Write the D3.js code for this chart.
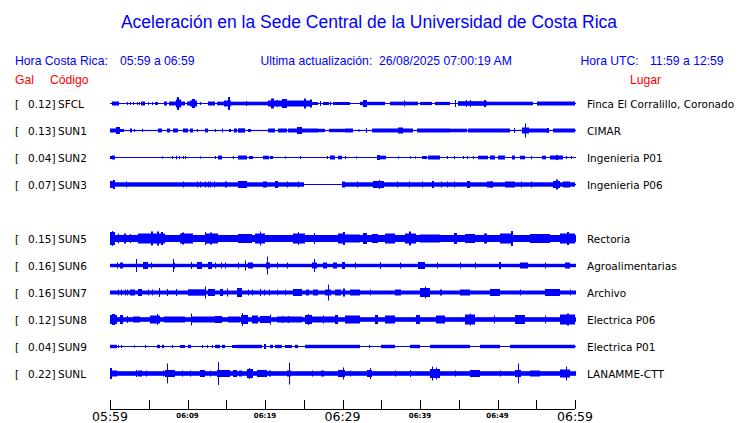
<!DOCTYPE html>
<html><head><meta charset="utf-8">
<script src="https://cdn.jsdelivr.net/npm/d3@7"></script>
<style>body{margin:0;background:#fff}svg{display:block}</style>
</head><body><svg id="c" width="740" height="423"></svg>
<script>
// ---------- DATA ----------
const slots = ["SFCL","SUN1","SUN2","SUN3","SUN4","SUN5","SUN6","SUN7","SUN8","SUN9","SUNL"];
const codes = ["SFCL","SUN1","SUN2","SUN3","SUN5","SUN6","SUN7","SUN8","SUN9","SUNL"];
const peakGal = ["0.12","0.13","0.04","0.07","0.15","0.16","0.16","0.12","0.04","0.22"];
const places = ["Finca El Corralillo, Coronado","CIMAR","Ingenieria P01","Ingenieria P06","Rectoria","Agroalimentarias","Archivo","Electrica P06","Electrica P01","LANAMME-CTT"];
// background (noise) amplitude of each trace, relative units
const baseAmp = [0.5,0.6,0.5,0.5,3.5,1.7,2,2.3,0.5,2.3];
// events per trace: [start minute, end minute, relative amplitude] (minutes after 05:59)
const ev_SFCL = [[0.3,1.2,2],[2.2,2.3,1.5],[2.6,2.7,1.5],[3.0,3.1,1.5],[3.5,3.6,1.5],[3.7,3.8,1.5],[4.0,4.5,2],[4.9,5.0,1.5],[5.4,5.5,1.5],[5.8,6.2,1.5],[7.0,7.4,2],[7.6,8.5,2],[8.5,9.1,4],[8.6,8.9,6.5],[9.0,9.7,2],[9.9,10.3,2],[10.3,11.2,3],[10.6,11.0,4.5],[11.6,11.7,1.5],[12.6,13.5,2],[13.8,14.7,1.8],[14.7,15.6,3],[15.2,15.5,6.5],[15.6,20.4,1.8],[17.5,17.6,2.5],[20.4,26.0,3],[20.8,21.1,5],[21.5,21.7,3.5],[22.2,22.9,4.5],[25.0,25.3,5],[25.8,26.0,4],[26.0,26.8,1.5],[27.1,27.2,2.5],[27.5,28.3,1.5],[28.4,28.5,2],[28.8,30.3,1.5],[30.3,31.0,1.5],[32.3,35.5,1.7],[32.6,33.2,3.5],[36.1,39.7,1.8],[38.0,38.1,3],[40.0,41.5,1.6],[41.9,43.9,1.6],[44.5,44.6,3.5],[44.9,48.6,2.3],[45.9,46.0,3.5],[46.4,46.5,3.5],[48.3,48.5,3.5],[48.6,54.6,1.8],[55.1,60,2]];
const ev_SUN1 = [[0,0.8,2],[0.8,1.3,3.5],[1.3,1.8,1.5],[2.6,2.8,2],[3.1,3.2,1.5],[4.1,4.2,1.5],[6.2,6.7,2],[7.4,7.7,2],[8.1,8.8,2],[9.4,10.0,2],[10.3,10.7,2],[11.2,11.4,1.5],[12.3,12.6,2],[13.6,13.7,1.5],[14.5,14.6,2],[15.3,15.6,1.5],[16.0,16.4,2],[16.5,17.4,2.2],[17.8,18.2,1.5],[20.4,21.3,2],[21.7,22.8,2],[23.0,26.8,2],[24.1,24.8,3.5],[26.8,27.8,1.7],[28.2,30.3,1.7],[30.3,31.4,2],[32.0,32.3,1],[33.0,33.1,2.5],[33.8,36.4,2],[36.4,39.1,2],[37.2,37.8,3],[39.6,43.9,2],[43.9,46.0,1.8],[46.2,49.7,2],[49.7,51.6,2],[52.1,52.3,2.5],[53.2,54.0,3],[53.5,53.6,7],[53.8,56.4,2],[56.4,56.6,2.5],[57.2,60,2]];
const ev_SUN2 = [[0,0.7,1.5],[0.3,0.7,2],[6.7,6.8,1.2],[8.0,8.1,1.5],[8.5,8.6,1.8],[8.9,9.0,1.5],[9.4,9.5,1.5],[9.7,9.8,1.5],[11.6,11.7,1.2],[13.5,13.6,1.5],[13.9,14.5,2],[15.9,16.0,1.5],[16.5,17.7,2],[17.9,18.4,1.5],[19.7,20.5,1.8],[20.6,21.0,1.5],[22.6,22.7,1.2],[24.5,24.6,1.5],[28.0,28.1,1.5],[28.4,29.0,2],[29.4,29.9,1.8],[30.3,30.4,1.5],[31.7,31.8,1.2],[34.4,34.9,2.5],[34.9,35.6,1.8],[37.2,37.3,1.2],[38.7,38.8,1.2],[39.3,39.4,1.2],[40.3,40.9,1.5],[41.0,42.6,2],[43.5,43.6,1.5],[44.4,44.5,1.5],[45.5,45.6,1.5],[46.1,46.2,1.5],[46.8,46.9,1.5],[47.5,48.8,1.8],[49.0,49.7,2],[50.1,51.0,2],[51.9,52.3,2],[52.9,53.6,1.8],[54.3,54.5,1.8],[55.8,56.3,1.8],[56.8,58.5,2],[57.6,57.8,2.5],[58.8,58.9,1.5],[59.5,59.6,1.5]];
const ev_SUN3 = [[0,25.0,2.2],[0,0.7,3.5],[0.4,0.6,4.5],[2.0,2.1,3],[9.4,9.5,3],[11.2,11.3,3],[11.6,11.7,3],[12.2,12.3,3],[12.6,12.7,3],[12.9,13.0,3],[13.4,13.5,3],[14.9,15.1,3],[16.5,17.7,3.5],[19.7,20.3,3],[21.3,21.7,3.5],[22.8,22.9,3],[24.2,24.3,3],[29.9,60,2.2],[29.9,30.3,3],[31.9,32.0,3],[33.9,35.3,3.5],[34.7,34.9,4.5],[37.0,37.1,3],[38.6,38.7,3],[40.2,40.4,3],[41.5,41.8,3.5],[42.7,42.8,3],[43.5,43.6,3],[44.4,44.5,3],[46.0,46.4,3.5],[48.6,49.4,3],[49.1,49.2,3.5],[51.0,52.3,3],[53.0,53.1,3],[54.3,54.4,3],[57.2,58.1,3.5],[57.6,57.8,5],[58.5,59.4,3]];
const ev_SUN5 = [[0,0.7,6.5],[0.2,0.4,7.5],[1.0,1.1,5],[1.8,2.0,5],[2.6,2.7,4.5],[3.6,7.1,5],[5.3,5.5,7],[6.1,6.3,7],[6.6,6.8,6.5],[9.0,10.7,5],[9.3,9.5,6],[12.2,12.3,6.5],[12.3,13.9,5],[12.9,13.1,6],[16.5,18.3,4.5],[18.7,20.0,5],[19.3,19.5,7],[23.6,25.2,5],[24.2,24.4,6.5],[26.3,26.5,5.5],[29.4,30.3,5],[30.1,30.3,6.5],[30.3,32.3,4],[32.7,33.1,5.5],[33.8,34.6,4.5],[35.5,36.8,5],[38.1,39.5,5],[38.6,38.8,7],[40.0,42.6,4],[44.4,44.8,5.5],[45.8,47.1,4.5],[48.2,48.6,5],[50.3,52.0,5],[51.8,52.0,7.5],[54.2,56.8,4.5],[58.1,60,5],[59.0,59.2,6.5]];
const ev_SUN6 = [[0.9,1.0,3],[1.3,1.7,3],[3.3,3.4,6.5],[4.3,4.9,3.5],[5.3,5.4,3],[8.1,8.2,6.5],[8.3,8.4,3],[10.4,10.5,3.5],[11.2,11.9,3.5],[12.6,13.2,3.5],[13.5,13.7,3],[14.3,14.4,3],[14.9,15.0,3],[16.5,16.6,3],[17.4,17.5,5],[17.8,18.5,3],[20.1,20.6,3],[20.3,20.4,9],[21.5,21.6,3],[22.8,22.9,3],[26.0,26.7,3],[26.3,26.4,6.5],[27.5,28.0,3],[28.8,29.3,3],[29.9,30.3,3.5],[31.6,31.7,3],[34.8,35.0,3.5],[37.4,37.5,3],[39.7,40.6,3.5],[42.2,42.3,3],[45.2,45.3,3],[47.1,47.2,3],[50.2,50.4,3.5],[52.9,53.9,3],[56.1,56.2,3],[58.7,59.3,3]];
const ev_SUN7 = [[1.0,1.1,3],[1.4,1.5,3],[1.9,2.0,3],[2.2,2.3,3],[2.6,3.2,3],[3.6,4.1,3.5],[4.9,5.0,3],[5.4,5.5,3],[6.3,6.5,4.5],[7.4,7.5,3.5],[8.5,8.6,3.5],[10.1,12.3,3.2],[12.2,12.3,6],[12.6,13.5,3.5],[14.2,14.6,3.5],[15.1,15.2,4],[16.4,17.0,4.5],[17.8,17.9,3],[18.3,18.4,3],[19.3,19.4,3.5],[19.9,20.0,3],[20.5,20.6,3],[21.6,21.7,3],[22.6,22.7,3],[23.6,24.8,3.5],[25.3,25.7,3],[26.2,26.9,3],[28.1,28.2,8],[27.8,28.5,3],[29.0,29.8,3],[30.0,30.3,4],[31.0,32.3,3],[33.5,33.6,3],[36.8,37.5,3],[40.0,41.3,4.5],[40.6,40.8,6],[42.6,42.8,3],[45.2,46.5,3],[49.0,50.3,3.5],[52.9,53.0,3],[56.1,58.1,3.5],[59.4,59.5,3]];
const ev_SUN8 = [[0,0.9,4.5],[0.3,0.6,5.5],[1.3,1.7,4.5],[2.2,2.3,3.5],[3.0,3.9,3],[5.2,6.5,4],[6.0,6.2,5.5],[7.0,9.7,3],[10.4,10.6,6],[10.6,13.5,3],[13.5,14.5,3.5],[15.2,16.8,3],[16.9,17.8,4.5],[17.0,17.2,6.5],[18.3,19.1,4],[19.4,20.6,3.5],[20.6,20.8,5],[21.5,24.8,3],[22.2,22.3,3.5],[23.0,23.1,3.5],[25.2,26.1,4.5],[25.6,25.7,5.5],[26.1,29.0,3],[27.5,27.6,4],[29.0,29.4,4.5],[30.3,32.3,4],[34.2,34.6,4.5],[35.5,36.8,4],[39.5,40.0,4.5],[42.0,43.2,4],[45.8,47.1,5],[46.4,46.6,6],[49.5,49.7,4],[52.3,53.6,4.5],[56.1,56.3,4],[58.1,60,5],[59.0,59.2,6]];
const ev_SUN9 = [[0,0.9,1.7],[1.0,1.1,1.5],[1.4,1.5,1.5],[3.1,3.2,1.2],[4.5,4.6,1.5],[6.1,6.4,1.7],[6.7,7.0,1.7],[8.0,8.1,1.5],[9.0,9.7,1.5],[10.1,10.5,1.7],[11.9,12.0,1.5],[12.5,12.6,1.5],[13.2,13.3,1.5],[13.5,14.2,1.7],[14.5,14.9,1.7],[15.7,16.4,1.5],[16.4,19.6,1.7],[19.9,20.1,2.5],[20.6,21.0,1.7],[21.3,22.2,1.7],[22.6,23.5,1.5],[23.9,24.2,1.7],[25.2,32.3,1.7],[33.4,33.5,1.5],[35.0,36.8,1.7],[38.7,40.0,1.7],[41.3,46.5,1.7],[47.7,50.3,1.7],[51.6,60,1.7]];
const ev_SUNL = [[0,0.2,5.5],[0.2,0.9,3],[3.3,3.4,3.5],[3.6,4.1,3],[4.6,4.7,3],[6.9,7.0,3],[7.1,8.4,3.5],[7.3,7.4,10],[9.3,9.4,3],[10.3,10.4,3],[11.6,12.3,3.5],[12.9,13.0,3],[13.8,15.5,3.5],[13.9,14.0,11.5],[15.9,16.4,3.5],[16.6,17.0,3],[17.7,18.5,4.5],[17.9,18.1,5.5],[19.0,20.3,3.5],[20.5,20.8,3],[22.9,23.4,3],[23.1,23.2,11],[26.1,26.2,3],[27.2,27.6,3],[29.4,30.3,3.5],[30.1,30.2,6],[31.0,31.1,3],[33.2,33.8,3.5],[33.5,33.6,5.5],[36.8,36.9,3],[38.7,38.9,3.5],[41.3,42.6,4.5],[41.5,41.6,7],[42.1,42.2,6],[44.5,44.6,3],[46.5,47.8,3.5],[50.3,50.4,3],[52.6,52.7,10],[52.3,53.0,3.5],[54.2,55.5,3],[58.1,59.4,4],[58.9,59.0,7]];
const events = [ev_SFCL,ev_SUN1,ev_SUN2,ev_SUN3,ev_SUN5,ev_SUN6,ev_SUN7,ev_SUN8,ev_SUN9,ev_SUNL];
// time axis
const tickMinutes = [0,5,10,15,20,25,30,35,40,45,50,55,60];
const tickLabels = {0:"05:59",10:"06:09",20:"06:19",30:"06:29",40:"06:39",50:"06:49",60:"06:59"};
const majorTicks = [0,30,60];
// header texts
const titleText = "Aceleración en la Sede Central de la Universidad de Costa Rica";
const headerLocal = ["Hora Costa Rica:", "05:59 a 06:59"];
const headerUpdate = "Ultima actualización:  26/08/2025 07:00:19 AM";
const headerUTC = ["Hora UTC:", "11:59 a 12:59"];

// ---------- DRAW ----------
const svg = d3.select("#c");
const BLUE = "#0000ff", RED = "#ff0000";
const x = d3.scaleLinear().domain([0,60]).range([110,575]);
const y = d3.scalePoint().domain(slots).range([103,373]);
const amp = d3.scaleLinear().domain([0,12]).range([0,12]);

svg.append("text").attr("x",369).attr("y",28).attr("text-anchor","middle")
  .attr("font-family","Liberation Sans, Arial, sans-serif").attr("font-size",17.5)
  .attr("fill",BLUE).text(titleText);

const hdr = svg.append("g").attr("font-family","Liberation Sans, Arial, sans-serif").attr("font-size",12.2);
hdr.append("text").attr("x",15).attr("y",65).attr("fill",BLUE).text(headerLocal[0]);
hdr.append("text").attr("x",120).attr("y",65).attr("fill",BLUE).text(headerLocal[1]);
hdr.append("text").attr("x",260.5).attr("y",65).attr("fill",BLUE).attr("xml:space","preserve").style("white-space","pre").text(headerUpdate);
hdr.append("text").attr("x",580.5).attr("y",65).attr("fill",BLUE).text(headerUTC[0]);
hdr.append("text").attr("x",650).attr("y",65).attr("fill",BLUE).text(headerUTC[1]);
hdr.append("text").attr("x",15).attr("y",84).attr("fill",RED).text("Gal");
hdr.append("text").attr("x",50).attr("y",84).attr("fill",RED).text("Código");
hdr.append("text").attr("x",630).attr("y",84).attr("fill",RED).text("Lugar");

const lab = svg.append("g").attr("font-family","DejaVu Sans, sans-serif").attr("font-size",10.5).attr("fill","#000");
codes.forEach((c,i)=>{
  const yy = y(c)+4.5;
  lab.append("text").attr("x",15).attr("y",yy).text("[");
  lab.append("text").attr("x",55.5).attr("y",yy).attr("text-anchor","end").text(peakGal[i]+"]");
  lab.append("text").attr("x",58).attr("y",yy).text(c);
  lab.append("text").attr("x",587).attr("y",yy).text(places[i]);
});

const tr = svg.append("g");
const px0 = Math.round(x(0)), px1 = Math.round(x(60));
codes.forEach((c,i)=>{
  const yc = y(c)+0.5;
  const env = new Array(px1-px0+1).fill(baseAmp[i]);
  events[i].forEach(([m0,m1,a])=>{
    const p0 = Math.round(x(m0));
    const p1 = Math.max(p0+1, Math.round(x(m1)));
    for(let p=p0;p<p1;p++){ if(p>=px0 && p<=px1) env[p-px0] = Math.max(env[p-px0], a); }
  });
  let d = "";
  env.forEach((a,k)=>{
    const h = Math.max(0.5, amp(a));
    d += `M${px0+k+0.5},${(yc-h).toFixed(1)}V${(yc+h).toFixed(1)}`;
  });
  tr.append("path").attr("d",d).attr("stroke",BLUE).attr("stroke-width",1).attr("fill","none");
});

// axis
const ax = svg.append("g").attr("transform","translate(0,409)");
ax.append("line").attr("x1",x(0)).attr("x2",x(60)).attr("y1",0.5).attr("y2",0.5).attr("stroke","#000");
const axis = d3.axisTop(x).tickValues(tickMinutes).tickSize(9).tickFormat("");
const ag = ax.append("g").call(axis);
ag.select(".domain").remove();
ag.selectAll(".tick line").attr("stroke","#000").attr("shape-rendering","crispEdges");
tickMinutes.filter(m=>tickLabels[m]).forEach(m=>{
  const major = majorTicks.includes(m);
  ax.append("text").attr("x",x(m)).attr("y",major?12:9).attr("text-anchor","middle")
    .attr("font-family","DejaVu Sans, sans-serif")
    .attr("font-size",major?12.5:7).attr("font-weight",major?"normal":"bold")
    .attr("fill","#000").text(tickLabels[m]);
});
</script></body></html>
